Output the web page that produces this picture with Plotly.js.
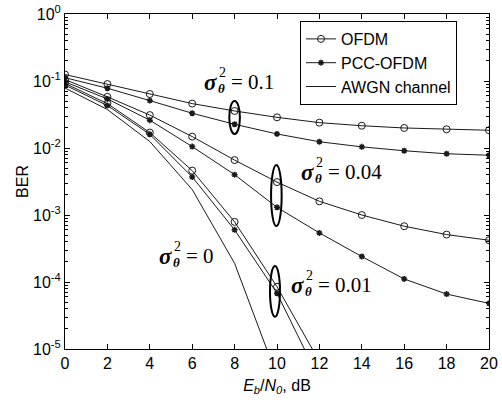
<!DOCTYPE html>
<html>
<head>
<meta charset="utf-8">
<script src="https://cdn.plot.ly/plotly-3.0.1.min.js"></script>
<style>html,body{margin:0;padding:0;background:#fff;}#plot{width:502px;height:400px;}</style>
</head>
<body>
<div id="plot"></div>
<script>
// ---- data ----
var snr = [0, 2, 4, 6, 8, 10, 12, 14, 16, 18, 20];
var snrShort = [0, 2, 4, 6, 8, 10, 12];
var snrAwgn = [0, 2, 4, 6, 8, 10];

var ofdm01   = [0.125, 0.090, 0.064, 0.046, 0.0357, 0.0287, 0.0239, 0.0215, 0.0199, 0.0190, 0.0184];
var pcc01    = [0.112, 0.078, 0.051, 0.033, 0.0226, 0.0162, 0.0124, 0.0104, 0.0091, 0.0082, 0.0078];
var ofdm004  = [0.105, 0.058, 0.031, 0.0148, 0.0066, 0.0031, 0.0016, 0.0010, 0.00068, 0.00051, 0.00042];
var pcc004   = [0.097, 0.054, 0.026, 0.0105, 0.0040, 0.0013, 0.00054, 0.00024, 0.000111, 0.000066, 0.000048];
var ofdm001  = [0.092, 0.046, 0.017, 0.0046, 0.00079, 0.000085, 0.0000065];
var pcc001   = [0.087, 0.043, 0.016, 0.0037, 0.00060, 0.000068, 0.0000035];
var awgn     = [0.0786, 0.0375, 0.0125, 0.0024, 0.00019, 0.0000039];

var yTickVals = [1e-5, 1e-4, 1e-3, 1e-2, 1e-1, 1];
var yTickText = ['10<sup>-5</sup>', '10<sup>-4</sup>', '10<sup>-3</sup>', '10<sup>-2</sup>', '10<sup>-1</sup>', '10<sup>0</sup>'];

var legendNames = ['OFDM', 'PCC-OFDM', 'AWGN channel'];
var sigmaLabels = ['0.1', '0.04', '0', '0.01'];

// ---- styles ----
var lineCol = '#1a1a1a';
function ofdmTrace(x, y, show) {
  return {x: x, y: y, type: 'scatter', mode: 'lines+markers', name: legendNames[0], showlegend: show,
    line: {color: lineCol, width: 1},
    marker: {symbol: 'circle-open', size: 7, color: lineCol, line: {width: 1, color: lineCol}}};
}
function pccTrace(x, y, show) {
  return {x: x, y: y, type: 'scatter', mode: 'lines+markers', name: legendNames[1], showlegend: show,
    line: {color: lineCol, width: 1},
    marker: {symbol: 'asterisk-open', size: 5, color: lineCol, line: {width: 1.5, color: lineCol}}};
}
var traces = [
  ofdmTrace(snr, ofdm01, true),
  pccTrace(snr, pcc01, true),
  {x: snrAwgn, y: awgn, type: 'scatter', mode: 'lines', name: legendNames[2], showlegend: true,
    line: {color: lineCol, width: 1}},
  ofdmTrace(snr, ofdm004, false),
  pccTrace(snr, pcc004, false),
  ofdmTrace(snrShort, ofdm001, false),
  pccTrace(snrShort, pcc001, false)
];

// minor ticks 2..9 per decade
var minorVals = [];
for (var e = -5; e < 0; e++) for (var m = 2; m <= 9; m++) minorVals.push(m * Math.pow(10, e));

// plot area in pixels
var L = 65, R = 489, T = 14, B = 349;
function px2paperX(p) { return (p - L) / (R - L); }
function px2paperY(p) { return (B - p) / (B - T); }

var serif = 'Liberation Serif, Times New Roman, serif';
var annotations = [];
function sigmaLabel(left, cy, val) {
  var base = {xref: 'paper', yref: 'paper', x: px2paperX(left), y: px2paperY(cy),
    xanchor: 'left', yanchor: 'middle', showarrow: false};
  annotations.push(Object.assign({}, base, {text: '<b><i>σ</i></b>', font: {family: serif, size: 23, color: '#000'}}));
  annotations.push(Object.assign({}, base, {text: '2', xshift: 15, yshift: 10, font: {family: serif, size: 14, color: '#000'}}));
  annotations.push(Object.assign({}, base, {text: '<b><i>θ</i></b>', xshift: 14, yshift: -6, font: {family: serif, size: 13, color: '#000'}}));
  annotations.push(Object.assign({}, base, {text: '= ' + val, xshift: 27, font: {family: serif, size: 21, color: '#000'}}));
}
sigmaLabel(202, 82, sigmaLabels[0]);
sigmaLabel(299, 172, sigmaLabels[1]);
sigmaLabel(157, 256, sigmaLabels[2]);
sigmaLabel(289, 285, sigmaLabels[3]);

var shapes = [
  {type: 'circle', xref: 'x', yref: 'y', x0: 7.75, x1: 8.25, y0: 0.0162, y1: 0.0503, line: {color: '#000', width: 2}},
  {type: 'circle', xref: 'x', yref: 'y', x0: 9.72, x1: 10.22, y0: 0.000685, y1: 0.00557, line: {color: '#000', width: 2}},
  {type: 'circle', xref: 'x', yref: 'y', x0: 9.67, x1: 10.14, y0: 0.0000303, y1: 0.000173, line: {color: '#000', width: 2}}
];

var sans = 'Liberation Sans, Arial, sans-serif';
var layout = {
  width: 502, height: 400,
  margin: {l: L, r: 502 - R, t: T, b: 400 - B, pad: 0},
  paper_bgcolor: '#fff', plot_bgcolor: '#fff',
  font: {family: sans, size: 16, color: '#000'},
  showlegend: true,
  legend: {x: px2paperX(300), y: px2paperY(21), xanchor: 'left', yanchor: 'top',
    bordercolor: '#000', borderwidth: 1, bgcolor: '#fff',
    font: {family: sans, size: 16, color: '#000'}, tracegroupgap: 0},
  xaxis: {range: [0, 20], dtick: 2, tick0: 0, ticks: 'inside', ticklen: 5, tickcolor: '#000',
    showline: true, linecolor: '#000', linewidth: 1, mirror: 'allticks', showgrid: false, zeroline: false,
    tickfont: {family: sans, size: 16, color: '#000'},
    title: {text: '<i>E<sub>b</sub></i>/<i>N<sub>0</sub></i>, dB', standoff: 8, font: {family: sans, size: 16, color: '#000'}}},
  yaxis: {type: 'log', range: [-5, 0], tickmode: 'array', tickvals: yTickVals, ticktext: yTickText,
    ticks: 'inside', ticklen: 5, tickcolor: '#000',
    showline: true, linecolor: '#000', linewidth: 1, mirror: 'allticks', showgrid: false, zeroline: false,
    tickfont: {family: sans, size: 16, color: '#000'},
    minor: {tickmode: 'array', tickvals: minorVals, ticks: 'inside', ticklen: 3, tickcolor: '#000', showgrid: false},
    title: {text: 'BER', standoff: 0, font: {family: sans, size: 16, color: '#000'}}},
  annotations: annotations,
  shapes: shapes
};

Plotly.newPlot('plot', traces, layout, {displayModeBar: false, staticPlot: true});
</script>
</body>
</html>
